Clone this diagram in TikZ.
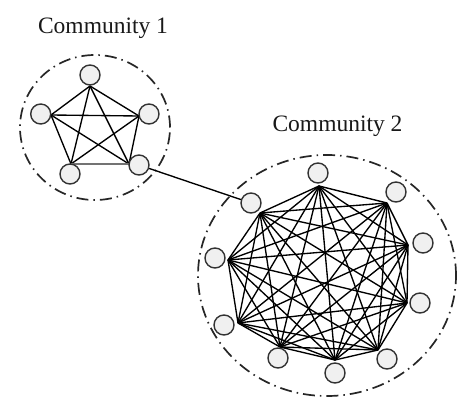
\documentclass[tikz,border=0pt]{standalone}
\usepackage{fontspec}
\setmainfont{Liberation Serif}
\begin{document}
\begin{tikzpicture}[x=1pt,y=-1pt,
  vnode/.style={circle, draw=black!80, line width=1.4pt, fill=black!6, minimum size=20pt, inner sep=0pt},
  link/.style={line width=1.35pt, black},
  commb/.style={draw=black!85, line width=1.7pt, dash pattern=on 12pt off 5pt on 1.5pt off 5pt},
  lbl/.style={font=\fontsize{23.5}{28}\selectfont, text=black!90, inner sep=0pt, anchor=base}]
\useasboundingbox (0,0) rectangle (474,415);
% community boundaries
\draw[commb] (95,127.5) ellipse [x radius=75pt, y radius=72.5pt];
\draw[commb] (327,275.5) ellipse [x radius=129pt, y radius=120.5pt];
% labels
\node[lbl] (t1) at (103,33) {Community 1};
\node[lbl] (t2) at (337.5,131) {Community 2};
% community 1 vertices
\coordinate (p1) at (90,86);
\coordinate (p2) at (51,115);
\coordinate (p3) at (139,116);
\coordinate (p4) at (71,164);
\coordinate (p5) at (129,164);
\foreach \i/\j in {1/2,1/3,1/4,1/5,2/3,2/4,2/5,3/4,3/5}
  \draw[link] (p\i) -- (p\j);
\draw[line width=2.2pt, black!55] (p4) -- (p5);
% community 2 vertices
\coordinate (q1) at (319,186);
\coordinate (q2) at (387,203);
\coordinate (q3) at (408,245);
\coordinate (q4) at (407,303);
\coordinate (q5) at (378,350);
\coordinate (q6) at (335,360);
\coordinate (q7) at (280,347);
\coordinate (q8) at (238,323);
\coordinate (q9) at (228,260);
\coordinate (q10) at (260,213);
\foreach \i [evaluate=\i as \k using int(\i+1)] in {1,...,9}
  \foreach \j in {\k,...,10}
    \draw[link] (q\i) -- (q\j);
% nodes community 1
\node[vnode] (a1) at (90,75) {};
\node[vnode] (a2) at (40.7,114) {};
\node[vnode] (a3) at (149,114) {};
\node[vnode] (a4) at (70,174) {};
\node[vnode] (a5) at (139,165) {};
% nodes community 2
\node[vnode] (b1) at (318,173) {};
\node[vnode] (b2) at (396,192) {};
\node[vnode] (b3) at (423,243) {};
\node[vnode] (b4) at (420,303) {};
\node[vnode] (b5) at (387,359) {};
\node[vnode] (b6) at (335,373) {};
\node[vnode] (b7) at (278,358) {};
\node[vnode] (b8) at (224,325) {};
\node[vnode] (b9) at (215,258) {};
\node[vnode] (b10) at (251,203) {};
% inter-community link
\draw[link] (a5) -- (b10);
\end{tikzpicture}
\end{document}
